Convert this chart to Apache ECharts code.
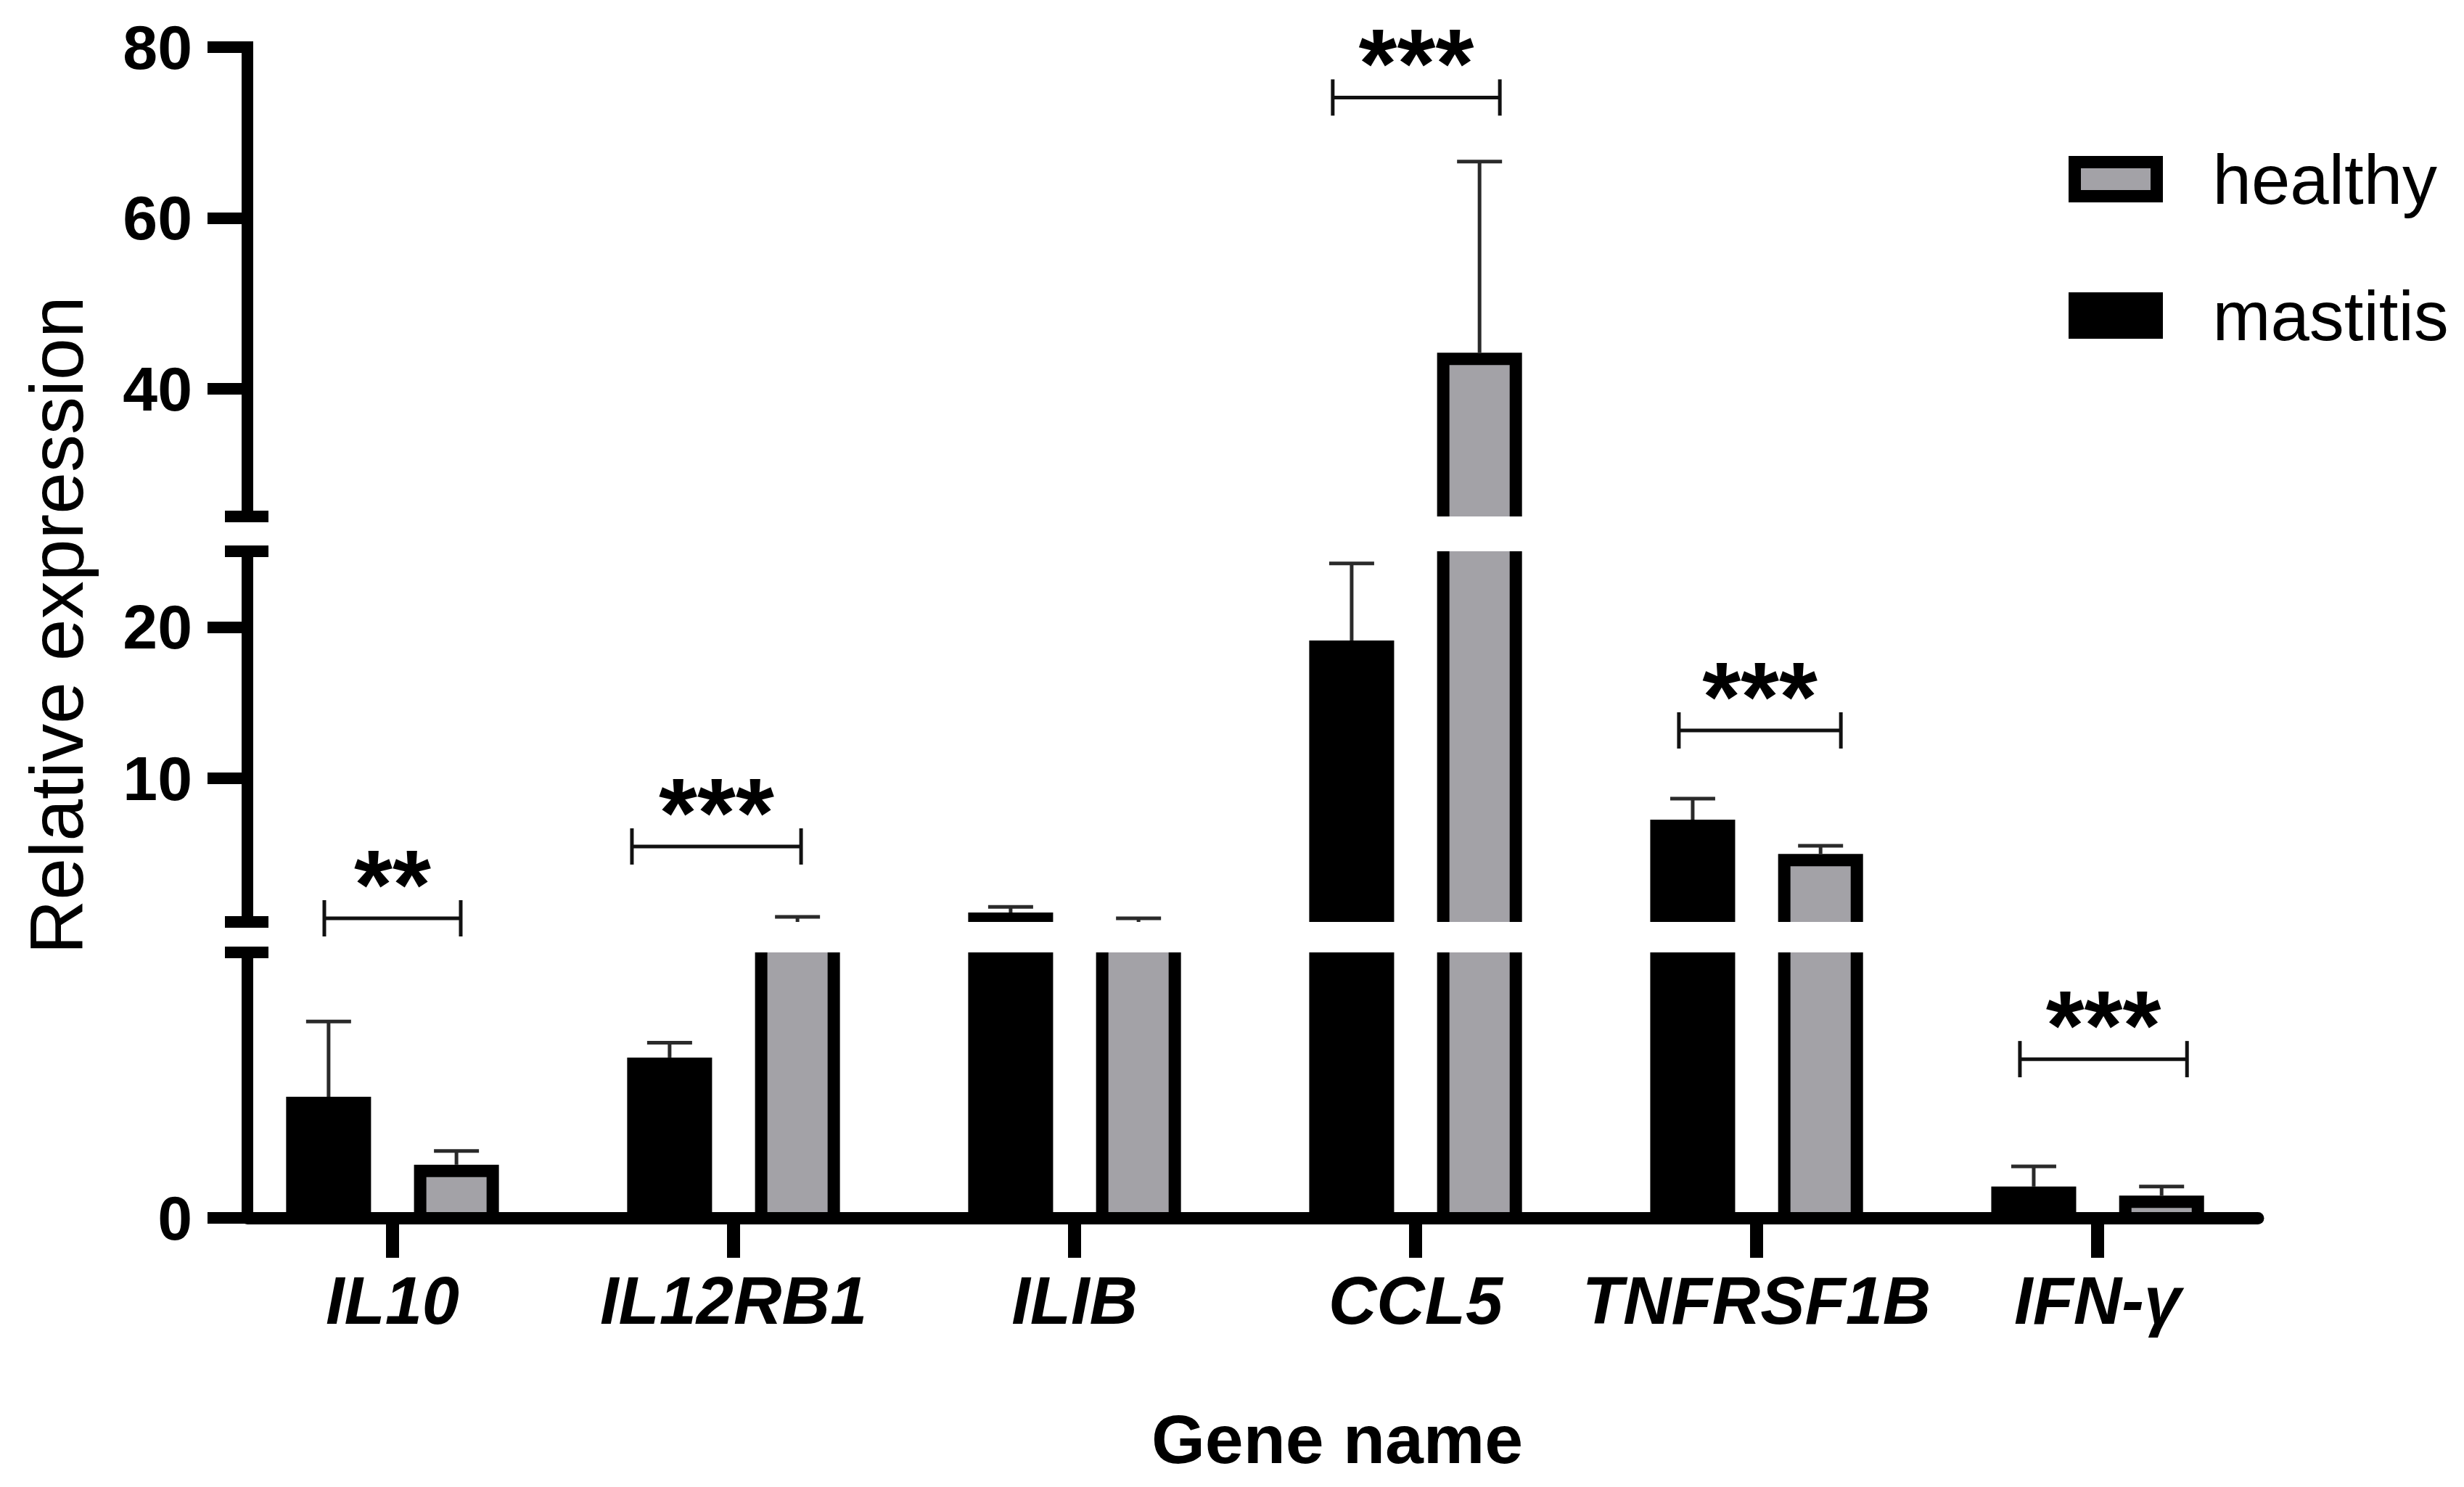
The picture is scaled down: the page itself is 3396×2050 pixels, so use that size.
<!DOCTYPE html>
<html><head><meta charset="utf-8">
<script src="https://cdn.jsdelivr.net/npm/echarts@6/dist/echarts.min.js"></script>
<style>html,body{margin:0;padding:0;background:#fff}#c{width:3396px;height:2050px}</style>
</head><body><div id="c"></div>
<script>
// ---------------- data ----------------
const categories = ['IL10', 'IL12RB1', 'ILIB', 'CCL5', 'TNFRSF1B', 'IFN-γ'];
const mastitisMean = [0.228, 0.302, 1.12, 19.1, 7.26, 0.059];
const mastitisErr  = [0.142, 0.028, 0.38, 5.1, 1.39, 0.038];
const healthyMean  = [0.100, 0.50, 0.50, 44.2, 5.0, 0.042];
const healthyErr   = [0.026, 0.34, 0.24, 22.4, 0.53, 0.017];

// broken y axis: three segments (top, middle, bottom)
const segMin = [25, 0.5, 0];
const segMax = [80, 25, 0.5];
const segTicks = [[40, 60, 80], [10, 20], [0]];

// significance annotations
const sigText    = ['**', '***', '***', '***', '***'];
const sigCat     = [0, 1, 3, 4, 5];
const sigFrom    = [-0.20, -0.298, -0.243, -0.228, -0.228];
const sigTo      = [0.20, 0.198, 0.247, 0.247, 0.262];
const sigLevel   = [0.74, 5.49, 74.1, 13.16, 0.299];
const sigSegment = [1, 1, 0, 1, 2];

// ---------------- layout / style ----------------
const X_MIN = -0.4255, X_MAX = 5.47;
const GRID_TOP = [65, 760, 1313];
const GRID_H = [647, 511, 366];
const BAR_W = 0.249, BAR_OFF = 0.1875, BORDER = 17;
const GRAY = '#a3a2a7';
const FONT = 'Liberation Sans';
const catIdx = categories.map((c, i) => i);

function barRender(off, outlined) {
  return function (params, api) {
    const cs = params.coordSys;
    const cTop = cs.y, cBot = cs.y + cs.height;
    const i = api.value(0), v = api.value(1), e = api.value(2);
    const pt = api.coord([i + off, v]);
    const base = api.coord([i + off, 0]);
    const w = api.size([BAR_W, 0])[0];
    const x = pt[0] - w / 2;
    const top = pt[1], bot = base[1];
    const ch = [];
    function rect(rx, y1, rw, y2, fill) {
      const a = Math.max(y1, cTop), b = Math.min(y2, cBot);
      if (b - a > 0.5) ch.push({ type: 'rect', shape: { x: rx, y: a, width: rw, height: b - a }, style: { fill: fill } });
    }
    rect(x, top, w, bot, '#000');
    // top border only when the bar's top lies inside this segment
    if (outlined) rect(x + BORDER, top + (top <= cTop + 1 ? 0 : BORDER), w - 2 * BORDER, bot, GRAY);
    // error bar
    const et = api.coord([i + off, v + e])[1];
    const la = Math.max(et, cTop), lb = Math.min(top, cBot);
    if (lb - la > 0) ch.push({ type: 'line', shape: { x1: pt[0], y1: la, x2: pt[0], y2: lb }, style: { stroke: '#2a2a2a', lineWidth: 5 } });
    if (et >= cTop && et <= cBot) ch.push({ type: 'line', shape: { x1: pt[0] - 31, y1: et, x2: pt[0] + 31, y2: et }, style: { stroke: '#2a2a2a', lineWidth: 5 } });
    return { type: 'group', children: ch };
  };
}

function capRender(params, api) {
  const p = api.coord([api.value(0), api.value(1)]);
  return { type: 'rect', shape: { x: p[0] - 31, y: p[1] - 8, width: 60, height: 16 }, style: { fill: '#000' } };
}

function sigRender(params, api) {
  const c = api.value(0);
  const p1 = api.coord([c + api.value(1), api.value(3)]);
  const p2 = api.coord([c + api.value(2), api.value(3)]);
  const label = sigText[api.value(4)];
  const st = { stroke: '#111', lineWidth: 5 };
  return { type: 'group', children: [
    { type: 'line', shape: { x1: p1[0], y1: p1[1], x2: p2[0], y2: p2[1] }, style: st },
    { type: 'line', shape: { x1: p1[0], y1: p1[1] - 25, x2: p1[0], y2: p1[1] + 25 }, style: st },
    { type: 'line', shape: { x1: p2[0], y1: p2[1] - 25, x2: p2[0], y2: p2[1] + 25 }, style: st },
    { type: 'text', style: { text: label, x: (p1[0] + p2[0]) / 2, y: p1[1] - 47, align: 'center', verticalAlign: 'middle',
      fontSize: 136, fontWeight: 'bold', fontFamily: FONT, fill: '#000' } }
  ] };
}

const grids = [], xAxes = [], yAxes = [], series = [];
const breakEnds = [[segMin[0]], [segMin[1], segMax[1]], [segMax[2]]];
for (let s = 0; s < 3; s++) {
  grids.push({ left: 341, right: 284, top: GRID_TOP[s], height: GRID_H[s], containLabel: false, outerBoundsMode: 'none' });
  const isBottom = s === 2;
  xAxes.push({
    type: 'value', gridIndex: s, min: X_MIN, max: X_MAX, show: isBottom, z: 10,
    axisLine: { show: isBottom, onZero: false, lineStyle: { color: '#000', width: 17 } },
    axisTick: { show: isBottom, customValues: catIdx, length: 55, lineStyle: { color: '#000', width: 18 } },
    axisLabel: { show: isBottom, customValues: catIdx, margin: 68, formatter: v => categories[Math.round(v)] || '',
      fontSize: 92, fontWeight: 'bold', fontStyle: 'italic', fontFamily: FONT, color: '#000' },
    splitLine: { show: false }
  });
  yAxes.push({
    type: 'value', gridIndex: s, min: segMin[s], max: segMax[s], z: 10,
    axisLine: { show: true, onZero: false, lineStyle: { color: '#000', width: 16, cap: 'square' } },
    axisTick: { show: true, customValues: segTicks[s], length: 55, lineStyle: { color: '#000', width: 16 } },
    axisLabel: { customValues: segTicks[s], margin: 76, fontSize: 86, fontWeight: 'bold', fontFamily: FONT, color: '#000' },
    splitLine: { show: false }
  });
  series.push({ type: 'custom', name: 'mastitis', xAxisIndex: s, yAxisIndex: s, clip: false, silent: true,
    itemStyle: { color: '#000' }, renderItem: barRender(-BAR_OFF, false),
    data: catIdx.map(i => [i, mastitisMean[i], mastitisErr[i]]) });
  series.push({ type: 'custom', name: 'healthy', xAxisIndex: s, yAxisIndex: s, clip: false, silent: true,
    itemStyle: { color: GRAY }, renderItem: barRender(BAR_OFF, true),
    data: catIdx.map(i => [i, healthyMean[i], healthyErr[i]]) });
  series.push({ type: 'custom', xAxisIndex: s, yAxisIndex: s, clip: false, silent: true, z: 11,
    renderItem: capRender, data: breakEnds[s].map(v => [X_MIN, v]) });
  const sd = [];
  sigText.forEach((t, k) => { if (sigSegment[k] === s) sd.push([sigCat[k], sigFrom[k], sigTo[k], sigLevel[k], k]); });
  if (sd.length) series.push({ type: 'custom', xAxisIndex: s, yAxisIndex: s, clip: false, silent: true, z: 5,
    renderItem: sigRender, data: sd });
}

const chart = echarts.init(document.getElementById('c'), null, { renderer: 'svg' });
chart.setOption({
  animation: false,
  backgroundColor: '#fff',
  grid: grids, xAxis: xAxes, yAxis: yAxes, series: series,
  legend: {
    orient: 'vertical', left: 2846, top: 194, itemWidth: 113, itemHeight: 47, itemGap: 92, selectedMode: false,
    textStyle: { fontSize: 96, fontFamily: FONT, color: '#000', padding: [0, 0, 0, 72] },
    data: [
      { name: 'healthy', icon: 'rect', itemStyle: { color: GRAY, borderColor: '#000', borderWidth: 17 } },
      { name: 'mastitis', icon: 'rect', itemStyle: { color: '#000', borderColor: '#000', borderWidth: 17 } }
    ]
  },
  graphic: [
    { type: 'text', x: 78, y: 862, rotation: Math.PI / 2,
      style: { text: 'Relative expression', fontSize: 104, fontFamily: FONT, fill: '#000', align: 'center', verticalAlign: 'middle' } },
    { type: 'text', x: 1843, y: 1984,
      style: { text: 'Gene name', fontSize: 95, fontWeight: 'bold', fontFamily: FONT, fill: '#000', align: 'center', verticalAlign: 'middle' } }
  ]
});
</script></body></html>
